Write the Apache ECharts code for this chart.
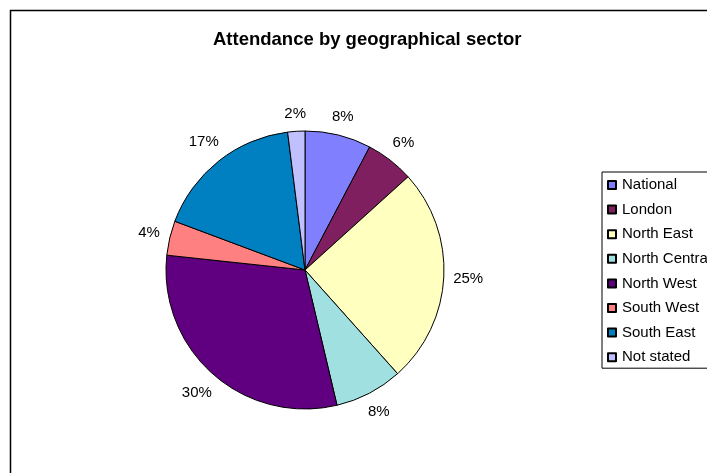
<!DOCTYPE html>
<html>
<head>
<meta charset="utf-8">
<script src="https://cdn.jsdelivr.net/npm/echarts@6/dist/echarts.min.js"></script>
<style>
  html, body { margin: 0; padding: 0; background: #fff; }
  #chart { width: 707px; height: 473px; }
</style>
</head>
<body>
<div id="chart"></div>
<script>
// data (share of attendance, %)
var sectors = ['National', 'London', 'North East', 'North Central', 'North West', 'South West', 'South East', 'Not stated'];
var shares = [7.7, 5.6, 25.1, 7.9, 30.4, 4.0, 17.3, 2.0];
var sliceColors = ['#8080ff', '#7f1f5f', '#ffffc0', '#a0e0e0', '#600080', '#ff8080', '#0080c0', '#c0c0ff'];

var pieCenter = [305, 270];
var pieRadius = 139;
var labelGap = 9;

var total = shares.reduce(function (a, b) { return a + b; }, 0);

// put each label just outside the pie along the slice's middle direction,
// the nearest edge of the label box sitting labelGap px off the rim (like excel)
function placeLabel(params) {
    var before = 0;
    for (var i = 0; i < params.dataIndex; i++) before += shares[i];
    var ang = (before + shares[params.dataIndex] / 2) / total * Math.PI * 2;
    var dx = Math.sin(ang), dy = -Math.cos(ang);
    var hw = params.labelRect.width / 2, hh = params.labelRect.height / 2;
    var dist = pieRadius + labelGap + Math.abs(dx) * hw + Math.abs(dy) * hh;
    return {
        x: pieCenter[0] + dx * dist,
        y: pieCenter[1] + dy * dist,
        align: 'center',
        verticalAlign: 'middle'
    };
}

var myChart = echarts.init(document.getElementById('chart'));
myChart.setOption({
    animation: false,
    backgroundColor: '#ffffff',
    color: sliceColors,
    title: {
        text: 'Attendance by geographical sector',
        left: 208,
        top: 25,
        textStyle: {
            fontFamily: 'Liberation Sans, Arial',
            fontSize: 18.5,
            fontWeight: 'bold',
            color: '#000'
        }
    },
    graphic: [{
        type: 'rect',
        shape: { x: 10.5, y: 10.5, width: 800, height: 600 },
        style: { fill: 'none', stroke: '#000', lineWidth: 1.5 },
        silent: true
    }],
    legend: {
        orient: 'vertical',
        left: 602,
        top: 172,
        padding: [5.5, 20, 3.5, 5],
        itemGap: 9.6,
        itemWidth: 8,
        itemHeight: 8,
        borderColor: '#000',
        borderWidth: 1,
        icon: 'rect',
        textStyle: {
            fontFamily: 'Liberation Sans, Arial',
            fontSize: 15,
            lineHeight: 15,
            color: '#000',
            padding: [0, 0, 0, 1]
        },
        data: sectors
    },
    series: [{
        name: 'Attendance',
        type: 'pie',
        center: pieCenter,
        radius: pieRadius,
        startAngle: 90,
        clockwise: true,
        avoidLabelOverlap: false,
        itemStyle: {
            borderColor: '#000',
            borderWidth: 1
        },
        label: {
            show: true,
            position: 'outside',
            fontFamily: 'Liberation Sans, Arial',
            fontSize: 15,
            color: '#000',
            formatter: function (p) {
                return Math.round(p.percent) + '%';
            }
        },
        labelLine: { show: false },
        labelLayout: placeLabel,
        emphasis: { disabled: true },
        data: sectors.map(function (name, i) {
            return { name: name, value: shares[i] };
        })
    }]
});
</script>
</body>
</html>
